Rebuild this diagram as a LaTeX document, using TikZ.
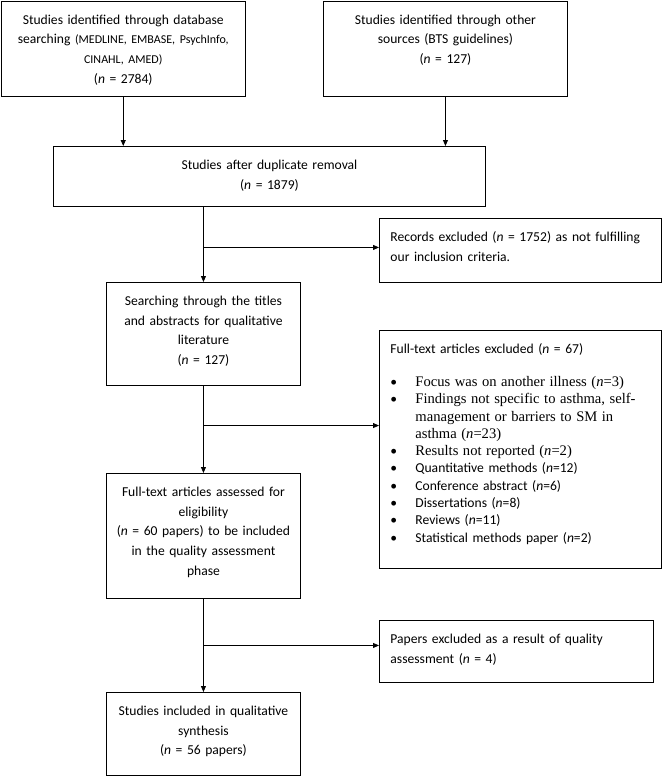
\documentclass[tikz,border=0pt]{standalone}
\usepackage{fontspec}
\setmainfont{Carlito}
\newfontfamily\camb{Liberation Serif}
\usetikzlibrary{arrows.meta,calc}
\newcommand{\nn}{\textit{n}}
\newcommand{\bul}[1]{\par\noindent\hangindent=25pt\hangafter=1\makebox[25pt][l]{\textbullet}#1}
\begin{document}
\begin{tikzpicture}[x=1pt,y=-1pt,
	box/.style 2 args={draw,line width=0.9pt,anchor=north west,inner xsep=10pt,inner ysep=0pt,
		text width=#1pt,text height=23pt,text depth=#2pt,align=center,
		font=\fontsize{13.6}{19.7}\selectfont},
	lbox/.style 2 args={box={#1}{#2},align=left,inner xsep=11pt,text width=#1pt-2pt},
	arr/.style={line width=0.8pt,-{Triangle[length=6pt,width=5pt]}}]
	\useasboundingbox (0,0) rectangle (662,776);
	% top row
	\node[box={224.4}{72.4}] (A) at (0.6,0.6) {Studies identified through database\\
		searching {\fontsize{12}{19.7}\selectfont(MEDLINE, EMBASE, PsychInfo,\\ CINAHL, AMED)}\\(\nn{} = 2784)};
	\node[box={224}{72.4}] (B) at (323,0.6) {Studies identified through other\\ sources (BTS guidelines)\\(\nn{} = 127)};
	\node[box={412}{37}] (C) at (53,146) {Studies after duplicate removal\\(\nn{} = 1879)};
	% left column
	\node[box={174}{80}] (D) at (106,282) {Searching through the titles\\ and abstracts for qualitative\\ literature\\(\nn{} = 127)};
	\node[box={174}{102}] (G) at (106,473) {Full-text articles assessed for\\ eligibility\\(\nn{} = 60 papers) to be included\\ in the quality assessment\\ phase};
	\node[box={174}{60}] (I) at (106,692) {Studies included in qualitative\\ synthesis\\(\nn{} = 56 papers)};
	% exclusions
	\node[lbox={262}{41}] (E) at (379,218) {Records excluded (\nn{} = 1752) as not fulfilling\\ our inclusion criteria.};
	\node[lbox={262}{215},font=\fontsize{13.6}{17.3}\selectfont] (F) at (379,330) {Full-text articles excluded (\nn{} = 67)\par\vspace{15.7pt}
		\bul{{\camb\fontsize{14.6}{17.3}\selectfont Focus was on another illness (\textit{n}=3)}}
		\bul{{\camb\fontsize{14.6}{17.3}\selectfont Findings not specific to asthma, self-\newline management or barriers to SM in\newline asthma (\textit{n}=23)}}
		\bul{{\camb\fontsize{14.6}{17.3}\selectfont Results not reported (\textit{n}=2)}}
		\bul{Quantitative methods (\nn=12)}
		\bul{Conference abstract (\nn=6)}
		\bul{Dissertations (\nn=8)}
		\bul{Reviews (\nn=11)}
		\bul{Statistical methods paper (\nn=2)}};
	\node[lbox={254}{39}] (H) at (379,620) {Papers excluded as a result of quality\\ assessment (\nn{} = 4)};
	% connectors
	\coordinate (j1) at ($(C.south -| D.north)!0.54!(D.north)$);
	\coordinate (j2) at ($(D.south)!0.455!(G.north)$);
	\coordinate (j3) at ($(G.south)!0.5!(I.north)$);
	\foreach \x in {A, B}
	\draw[arr] (\x.south) -- (\x.south |- C.north);
	\draw[arr] (C.south -| D.north) -- (D.north);
	\draw[arr] (D.south) -- (G.north);
	\draw[arr] (G.south) -- (I.north);
	\foreach \j/\t in {j1/E, j2/F, j3/H}
	\draw[arr] (\j) -- (\j -| \t.west);
\end{tikzpicture}
\end{document}
